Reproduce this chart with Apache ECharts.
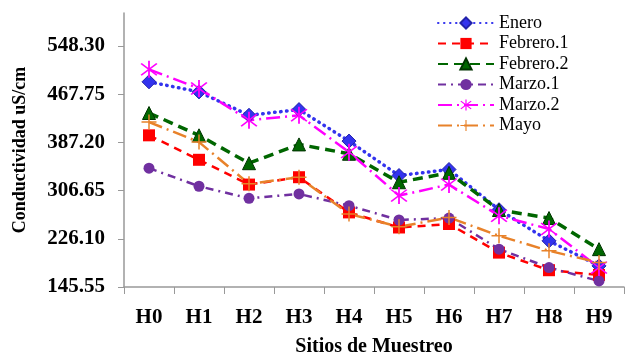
<!DOCTYPE html>
<html><head><meta charset="utf-8">
<script src="https://cdn.jsdelivr.net/npm/echarts@6/dist/echarts.min.js"></script>
<style>html,body{margin:0;padding:0;background:#fff}#c{width:626px;height:356px}</style>
</head><body><div id="c"></div>
<script>
var categories = ['H0','H1','H2','H3','H4','H5','H6','H7','H8','H9'];
var yTicks = [145.55, 226.10, 306.65, 387.20, 467.75, 548.30];
var enero    = [488.4, 471.6, 432.5, 442.0, 389.4, 331.8, 341.9, 274.7, 222.7, 180.8];
var febrero1 = [399.0, 358.1, 316.7, 329.0, 270.2, 245.0, 250.8, 203.0, 173.6, 165.7];
var febrero2 = [436.3, 399.0, 352.4, 383.8, 368.2, 320.6, 336.3, 274.2, 260.8, 208.8];
var marzo1   = [344.1, 313.9, 293.7, 301.1, 281.5, 257.5, 260.8, 208.8, 178.0, 155.6];
var marzo2   = [509.2, 477.3, 424.1, 432.5, 370.9, 298.3, 316.7, 264.7, 242.4, 178.0];
var mayo     = [421.2, 387.7, 317.9, 329.0, 267.5, 246.2, 261.8, 231.1, 206.0, 186.3];

var asterisk = 'path://M9.2 0L10.8 0L10.8 20L9.2 20Z M3.57 2.43L17.57 16.43L16.43 17.57L2.43 3.57Z M17.57 3.57L3.57 17.57L2.43 16.43L16.43 2.43Z';
var plus = 'path://M9 0L11 0L11 20L9 20Z M0 9L20 9L20 11L0 11Z';
var serif = '"Liberation Serif","Times New Roman",serif';

function mk(name, data, color, lt, lw, cap, sym, ss, border) {
  return {
    name: name, type: 'line', data: data,
    symbol: sym, symbolSize: ss,
    itemStyle: {color: color, borderColor: border || color, borderWidth: border ? 1 : 0},
    lineStyle: {color: color, width: lw, type: lt, cap: cap},
    emphasis: {disabled: true},
    animation: false
  };
}

var chart = echarts.init(document.getElementById('c'), null, {renderer: 'canvas'});
chart.setOption({
  backgroundColor: '#fff',
  animation: false,
  grid: {left: 124, right: 2, top: 13, bottom: 69, containLabel: false, outerBoundsMode: 'none'},
  legend: {
    orient: 'vertical', left: 437, top: 13, padding: 0,
    itemWidth: 56, itemHeight: 14, itemGap: 0.5,
    textStyle: {fontFamily: serif, fontSize: 18, color: '#000', lineHeight: 20},
    data: ['Enero','Febrero.1','Febrero.2','Marzo.1','Marzo.2','Mayo']
  },
  xAxis: {
    type: 'category', data: categories, boundaryGap: true,
    axisLine: {show: true, onZero: false, lineStyle: {color: '#999', width: 1.5}},
    axisTick: {show: true, inside: false, length: 7, alignWithLabel: false, lineStyle: {color: '#999'}},
    axisLabel: {fontFamily: serif, fontWeight: 'bold', fontSize: 21, color: '#000', margin: 20},
    name: 'Sitios de Muestreo', nameLocation: 'middle', nameGap: 50,
    nameTextStyle: {fontFamily: serif, fontWeight: 'bold', fontSize: 20, color: '#000'},
    splitLine: {show: false}
  },
  yAxis: {
    type: 'value', min: 145.55, max: 603.4,
    axisLine: {show: true, lineStyle: {color: '#999', width: 1.5}},
    axisTick: {show: true, length: 6, lineStyle: {color: '#999'}, customValues: yTicks},
    axisLabel: {fontFamily: serif, fontWeight: 'bold', fontSize: 21, color: '#000', margin: 19,
      customValues: yTicks, formatter: function (v) { return Number(v).toFixed(2); }},
    splitLine: {show: false},
    name: 'Conductividad uS/cm', nameLocation: 'middle', nameRotate: 90, nameGap: 95,
    nameTextStyle: {fontFamily: serif, fontWeight: 'bold', fontSize: 18, color: '#000'}
  },
  series: [
    mk('Enero', enero, '#3333ee', [0.5, 5.5], 3.5, 'round', 'diamond', 14, '#2222aa'),
    mk('Febrero.1', febrero1, '#ff0000', [8, 6], 2.5, 'butt', 'rect', 12),
    mk('Febrero.2', febrero2, '#006600', [10, 6], 3.5, 'butt', 'triangle', 13, '#003300'),
    mk('Marzo.1', marzo1, '#7030a0', [8, 5, 2, 5], 2.5, 'butt', 'circle', 11),
    mk('Marzo.2', marzo2, '#ff00ff', [14, 5, 2, 5], 2.5, 'butt', asterisk, 17),
    mk('Mayo', mayo, '#e8822a', [14, 5, 2, 5], 2.5, 'butt', plus, 15)
  ]
});
</script></body></html>
